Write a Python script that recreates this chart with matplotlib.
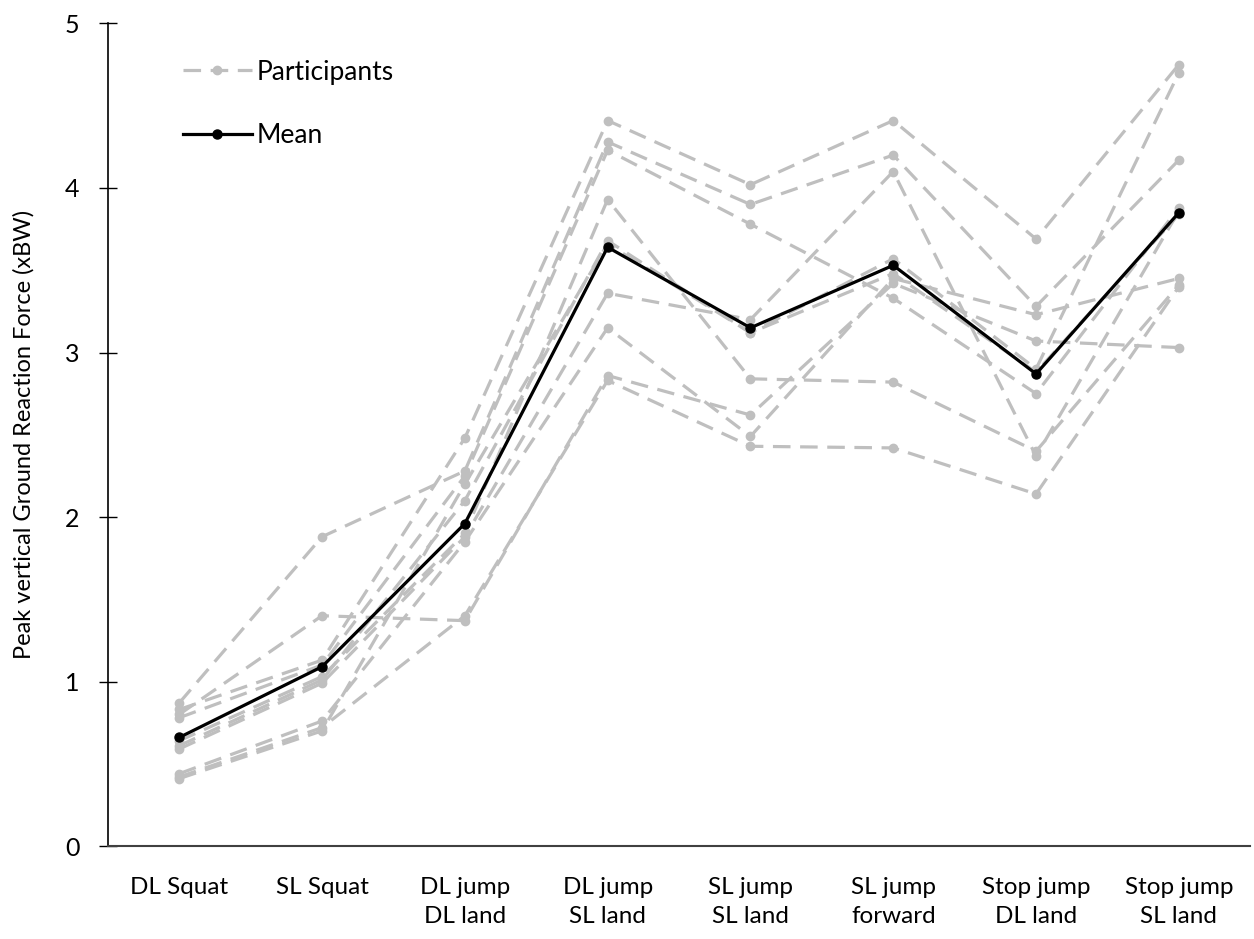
import matplotlib
matplotlib.use("Agg")
import matplotlib.pyplot as plt
import numpy as np

plt.rcParams['font.family'] = ['Lato', 'DejaVu Sans']

tasks = ['DL Squat', 'SL Squat', 'DL jump\nDL land', 'DL jump\nSL land',
         'SL jump\nSL land', 'SL jump\nforward', 'Stop jump\nDL land', 'Stop jump\nSL land']

# peak vGRF (xBW) for each participant
p1 = [0.87, 1.88, 2.28, 4.28, 3.90, 4.20, 3.28, 4.17]
p2 = [0.83, 1.13, 2.48, 4.41, 4.02, 4.41, 3.69, 4.75]
p3 = [0.80, 1.40, 1.37, 2.86, 2.62, 3.42, 3.07, 3.03]
p4 = [0.78, 1.10, 2.25, 4.23, 3.78, 3.33, 2.75, 3.88]
p5 = [0.64, 1.03, 1.90, 3.93, 2.84, 2.82, 2.40, 3.41]
p6 = [0.61, 1.01, 2.10, 3.68, 3.12, 3.57, 2.90, 4.70]
p7 = [0.59, 0.99, 1.88, 3.36, 3.20, 4.10, 2.37, 3.86]
p8 = [0.44, 0.76, 1.85, 3.15, 2.49, 3.45, 3.23, 3.45]
p9 = [0.42, 0.72, 1.40, 2.83, 2.43, 2.42, 2.14, 3.40]
p10 = [0.41, 0.70, 2.20, 3.66, 3.12, 3.48, 2.88, 3.84]
participants = [p1, p2, p3, p4, p5, p6, p7, p8, p9, p10]

mean = [0.66, 1.09, 1.96, 3.64, 3.15, 3.53, 2.87, 3.85]

x = np.arange(len(tasks))

fig = plt.figure(figsize=(12.54, 9.39), dpi=100)
ax = fig.add_axes([0.086, 0.099, 0.911, 0.876])

for i, p in enumerate(participants):
    ax.plot(x, p, color='#BFBFBF', lw=2.3, dashes=(5.5, 3), marker='o', markersize=6,
            label='Participants' if i == 0 else None)

ax.plot(x, mean, color='black', lw=2.3, marker='o', markersize=6.5, label='Mean')

ax.set_xlim(-0.5, 7.5)
ax.set_ylim(0, 5)
ax.set_yticks([0, 1, 2, 3, 4, 5])
ax.set_xticks(x)
ax.set_xticklabels(tasks, fontsize=17.5, linespacing=1.5)
ax.tick_params(axis='y', direction='inout', length=13, width=1, labelsize=18, pad=14)
ax.tick_params(axis='x', length=0, pad=22)

ax.spines['top'].set_visible(False)
ax.spines['right'].set_visible(False)
ax.spines['left'].set_linewidth(1.2)
ax.spines['bottom'].set_linewidth(1.5)
ax.spines['bottom'].set_color('#404040')

ax.set_ylabel('Peak vertical Ground Reaction Force (xBW)', fontsize=17, labelpad=22)

ax.legend(loc='upper left', bbox_to_anchor=(0.045, 0.985), frameon=False, fontsize=19,
          labelspacing=1.45, handlelength=2.6, handletextpad=0.2)

plt.savefig('out.png', dpi=100)
